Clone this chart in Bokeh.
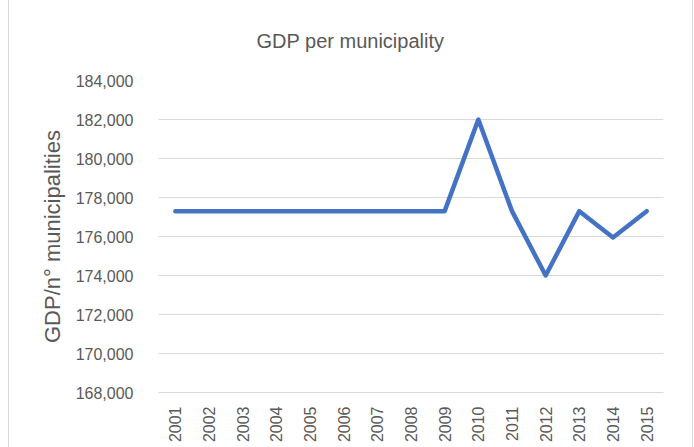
from bokeh.plotting import figure
from bokeh.models import Range1d, FixedTicker, NumeralTickFormatter, FactorRange
from bokeh.embed import file_html
from bokeh.resources import INLINE
import math

years = ["2001", "2002", "2003", "2004", "2005", "2006", "2007", "2008",
         "2009", "2010", "2011", "2012", "2013", "2014", "2015"]
gdp_per_municipality = [177300, 177300, 177300, 177300, 177300, 177300, 177300, 177300,
                        177300, 182000, 177300, 174000, 177300, 175950, 177300]
y_ticks = [168000, 170000, 172000, 174000, 176000, 178000, 180000, 182000, 184000]
title_text = "GDP per municipality"
y_label = "GDP/n° municipalities"

FONT = "Liberation Sans"
TEXT = "#595959"
GRID = "#d9d9d9"

p = figure(width=694, height=447, output_backend="svg", toolbar_location=None,
           x_range=FactorRange(*years), y_range=Range1d(168000, 184000),
           min_border_left=158, min_border_right=31, min_border_top=80, min_border_bottom=55)
p.outline_line_color = None
p.background_fill_color = "white"
p.border_fill_color = None
p.styles = {"background": "linear-gradient(to right, transparent 8px, #d9d9d9 8px, #d9d9d9 9px, "
                          "white 9px, white 692px, #d9d9d9 692px, #d9d9d9 693px, transparent 693px)"}

p.line(x=years, y=gdp_per_municipality, line_color="#4472C4", line_width=4.5,
       line_join="round", line_cap="round")

p.xgrid.grid_line_color = None
p.ygrid.grid_line_color = GRID
p.ygrid.grid_line_width = 1

p.yaxis.ticker = FixedTicker(ticks=y_ticks)
p.yaxis.formatter = NumeralTickFormatter(format="0,0")
p.yaxis.axis_line_color = None
p.yaxis.major_tick_line_color = None
p.yaxis.minor_tick_line_color = None
p.yaxis.major_label_standoff = 19
p.yaxis.major_label_text_font = FONT
p.yaxis.major_label_text_font_size = "16px"
p.yaxis.major_label_text_color = TEXT
p.yaxis.axis_label = y_label
p.yaxis.axis_label_text_font = FONT
p.yaxis.axis_label_text_font_size = "22px"
p.yaxis.axis_label_text_font_style = "normal"
p.yaxis.axis_label_text_color = TEXT
p.yaxis.axis_label_standoff = 8

p.xaxis.axis_line_color = GRID
p.xaxis.axis_line_width = 1
p.xaxis.major_tick_line_color = None
p.xaxis.minor_tick_line_color = None
p.xaxis.major_label_orientation = math.pi / 2
p.xaxis.major_label_standoff = 8
p.xaxis.major_label_text_font = FONT
p.xaxis.major_label_text_font_size = "16px"
p.xaxis.major_label_text_color = TEXT

p.title.text = title_text
p.title.align = "left"
p.title.offset = 98
p.title.vertical_align = "top"
p.title.standoff = 53
p.title.text_font = FONT
p.title.text_font_size = "20px"
p.title.text_font_style = "normal"
p.title.text_color = TEXT

open("out.html", "w").write(file_html(p, INLINE))
